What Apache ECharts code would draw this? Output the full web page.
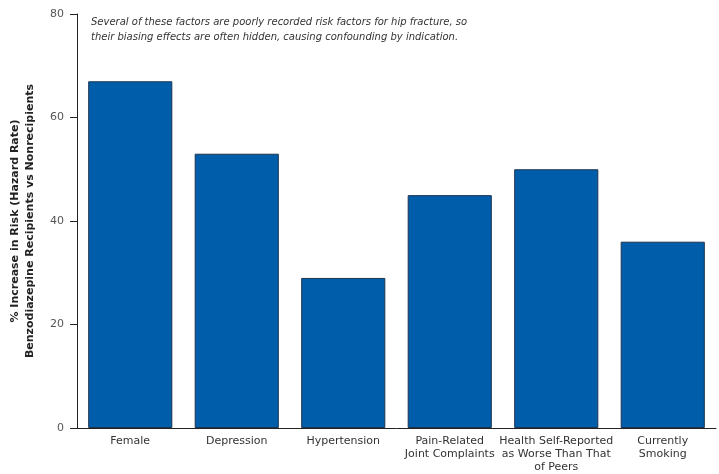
<!DOCTYPE html>
<html><head><meta charset="utf-8">
<script src="https://cdn.jsdelivr.net/npm/echarts@6/dist/echarts.min.js"></script>
<style>html,body{margin:0;padding:0;background:#fff}#c{width:719px;height:474px}</style>
</head><body><div id="c"></div>
<script>
const categories = ["Female", "Depression", "Hypertension", "Pain-Related\nJoint Complaints", "Health Self-Reported\nas Worse Than That\nof Peers", "Currently\nSmoking"];
const values = [67, 53, 29, 45, 50, 36];
const yTicks = [0, 20, 40, 60, 80];
const yTitle = "% Increase in Risk (Hazard Rate)\nBenzodiazepine Recipients vs Nonrecipients";
const note = "Several of these factors are poorly recorded risk factors for hip fracture, so\ntheir biasing effects are often hidden, causing confounding by indication.";

const chart = echarts.init(document.getElementById('c'), null, {renderer: 'canvas'});
const font = 'Verdana, "DejaVu Sans", sans-serif';
chart.setOption({
  animation: false,
  grid: {left: 77, right: 3, top: 14, bottom: 42},
  graphic: [{
    type: 'text', left: 91, top: 15,
    style: {text: note, font: 'italic 10px ' + font, fill: '#333', lineHeight: 15}
  }],
  xAxis: {
    type: 'category', data: categories,
    axisLine: {lineStyle: {color: '#222', width: 1}},
    axisTick: {show: false},
    axisLabel: {color: '#333', fontFamily: font, fontSize: 11, interval: 0, lineHeight: 13, margin: 7}
  },
  yAxis: {
    type: 'value', min: yTicks[0], max: yTicks[yTicks.length - 1], interval: 20,
    name: yTitle, nameLocation: 'middle', nameGap: 39, nameRotate: 90,
    nameTextStyle: {color: '#222', fontFamily: font, fontSize: 11, fontWeight: 'bold', lineHeight: 15},
    axisLine: {show: true, lineStyle: {color: '#222', width: 1}},
    axisTick: {show: true, length: 7, lineStyle: {color: '#222'}},
    axisLabel: {color: '#555', fontFamily: font, fontSize: 11, margin: 13},
    splitLine: {show: false}
  },
  series: [{
    type: 'bar', data: values, barCategoryGap: '21%',
    itemStyle: {color: '#005DAA', borderColor: '#1d3550', borderWidth: 1}
  }]
});
</script></body></html>
